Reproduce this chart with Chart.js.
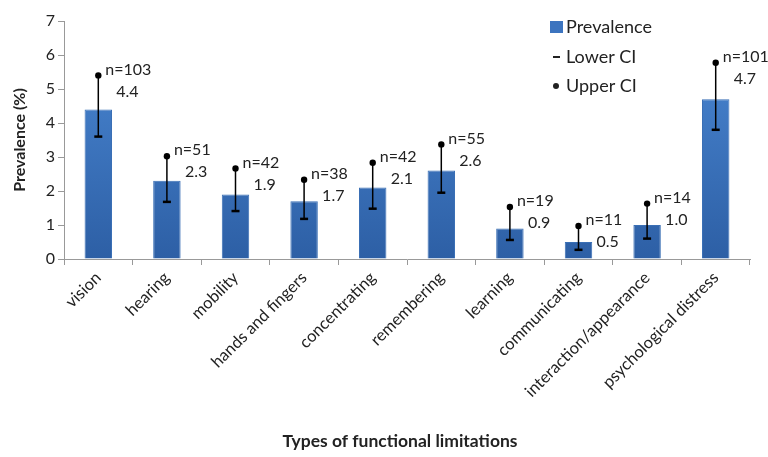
<!DOCTYPE html>
<html>
<head>
<meta charset="utf-8">
<script src="https://cdn.jsdelivr.net/npm/chart.js@4.4.0/dist/chart.umd.min.js"></script>
<style>
  html, body { margin: 0; padding: 0; background: #fff; }
  #wrap { width: 768px; height: 457px; position: relative; }
</style>
</head>
<body>
<div id="wrap"><canvas id="prev"></canvas></div>
<script>
const categories = ['vision', 'hearing', 'mobility', 'hands and fingers', 'concentrating',
  'remembering', 'learning', 'communicating', 'interaction/appearance', 'psychological distress'];
const prevalence = [4.4, 2.3, 1.9, 1.7, 2.1, 2.6, 0.9, 0.5, 1.0, 4.7];
const lowerCI = [3.6, 1.68, 1.41, 1.18, 1.48, 1.95, 0.56, 0.27, 0.6, 3.8];
const upperCI = [5.4, 3.02, 2.66, 2.33, 2.83, 3.37, 1.53, 0.97, 1.63, 5.77];
const nLabels = ['n=103', 'n=51', 'n=42', 'n=38', 'n=42', 'n=55', 'n=19', 'n=11', 'n=14', 'n=101'];
const valueLabels = ['4.4', '2.3', '1.9', '1.7', '2.1', '2.6', '0.9', '0.5', '1.0', '4.7'];

const FONT = 'Lato, "Open Sans", sans-serif';

// error bars + n= / value labels
const errorBars = {
  id: 'errorBars',
  afterDatasetsDraw(chart) {
    const { ctx, scales: { x, y } } = chart;
    ctx.save();
    categories.forEach((c, i) => {
      const px = x.getPixelForValue(i);
      const yl = y.getPixelForValue(lowerCI[i]);
      const yu = y.getPixelForValue(upperCI[i]);
      ctx.strokeStyle = '#000';
      ctx.lineWidth = 1.5;
      ctx.beginPath();
      ctx.moveTo(px, yl);
      ctx.lineTo(px, yu);
      ctx.stroke();
      ctx.lineWidth = 2.5;
      ctx.beginPath();
      ctx.moveTo(px - 4, yl);
      ctx.lineTo(px + 4, yl);
      ctx.stroke();
      ctx.fillStyle = '#000';
      ctx.beginPath();
      ctx.arc(px, yu, 3.2, 0, Math.PI * 2);
      ctx.fill();

      ctx.font = '16px ' + FONT;
      ctx.fillStyle = '#222';
      ctx.textAlign = 'left';
      ctx.textBaseline = 'middle';
      ctx.fillText(nLabels[i], px + 7, yu - 6);
      ctx.fillText(valueLabels[i], px + 18, yu + 16);
    });
    ctx.restore();
  }
};

// legend inside plot, top right
const innerLegend = {
  id: 'innerLegend',
  afterDraw(chart) {
    const { ctx } = chart;
    ctx.save();
    const lx = 550;
    ctx.font = '18px ' + FONT;
    ctx.textBaseline = 'middle';
    ctx.textAlign = 'left';
    // Prevalence
    ctx.fillStyle = '#3c74bf';
    ctx.fillRect(lx, 21, 13, 12);
    ctx.fillStyle = '#222';
    ctx.fillText('Prevalence', lx + 16, 27);
    // Lower CI
    ctx.fillRect(lx + 3, 56, 7, 2);
    ctx.fillText('Lower CI', lx + 16, 57);
    // Upper CI
    ctx.beginPath();
    ctx.arc(lx + 6, 86, 3, 0, Math.PI * 2);
    ctx.fill();
    ctx.fillText('Upper CI', lx + 16, 86);
    ctx.restore();
  }
};

// x axis title
const xTitle = {
  id: 'xTitle',
  afterDraw(chart) {
    const { ctx } = chart;
    ctx.save();
    ctx.font = 'bold 17.5px ' + FONT;
    ctx.fillStyle = '#222';
    ctx.textAlign = 'center';
    ctx.textBaseline = 'middle';
    ctx.fillText('Types of functional limitations', 400, 441);
    ctx.restore();
  }
};

const ctx = document.getElementById('prev').getContext('2d');
const grad = ctx.createLinearGradient(0, 20, 0, 260);
grad.addColorStop(0, '#4c8ad6');
grad.addColorStop(1, '#2d5fa5');

new Chart(ctx, {
  type: 'bar',
  data: {
    labels: categories,
    datasets: [{
      label: 'Prevalence',
      data: prevalence,
      backgroundColor: grad,
      borderColor: '#3a6fb5',
      borderWidth: 1,
      barPercentage: 0.4,
      categoryPercentage: 1.0
    }]
  },
  options: {
    responsive: true,
    maintainAspectRatio: false,
    animation: false,
    layout: { padding: { top: 21, right: 18, left: 8, bottom: 0 } },
    plugins: { legend: { display: false }, tooltip: { enabled: false } },
    scales: {
      x: {
        grid: { display: true, drawOnChartArea: false, offset: true, color: '#999', tickLength: 6 },
        border: { color: '#999' },
        ticks: {
          minRotation: 45, maxRotation: 45, autoSkip: false,
          color: '#222', font: { family: FONT, size: 16.5 }
        },
        afterFit(s) { s.height = 198; }
      },
      y: {
        min: 0, max: 7,
        grid: { display: true, drawOnChartArea: false, color: '#999', tickLength: 6 },
        border: { color: '#999' },
        ticks: { stepSize: 1, color: '#222', font: { family: FONT, size: 16 } },
        title: { display: true, text: 'Prevalence (%)', color: '#222', font: { family: FONT, size: 16, weight: 'bold' }, padding: 2 },
        afterFit(s) { s.width = 56; }
      }
    }
  },
  plugins: [errorBars, innerLegend, xTitle]
});
</script>
</body>
</html>
